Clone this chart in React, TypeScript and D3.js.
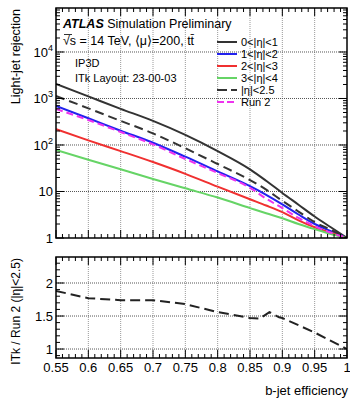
import React from 'react'
import * as d3 from 'd3'

// b-jet efficiency points shared by the upper curves
const effPoints = [0.55, 0.6, 0.65, 0.7, 0.75, 0.8, 0.85, 0.875, 0.9, 0.925, 0.95, 0.975, 1.0]

const eta0to1 = [2050, 1110, 600, 330, 165, 74, 30, 17, 9.3, 5.2, 2.9, 1.7, 1]
const eta1to2 = [690, 375, 203, 112, 56, 27, 13, 8.5, 5.3, 3.2, 2.0, 1.4, 1]
const eta2to3 = [220, 126, 74, 43, 24, 12.7, 6.8, 5.0, 3.6, 2.4, 1.7, 1.3, 1]
const eta3to4 = [78, 48, 30, 18.6, 11.7, 7.4, 4.4, 3.4, 2.65, 2.0, 1.55, 1.22, 1]
const etaAll = [1130, 615, 330, 178, 85, 39, 17.6, 11, 6.3, 3.7, 2.2, 1.5, 1]
const run2 = [595, 345, 190, 103, 50, 25, 12, 7.0, 4.4, 2.7, 1.8, 1.3, 1]

// ratio ITk / Run 2 (|eta|<2.5)
const ratioEff = [0.55, 0.6, 0.65, 0.7, 0.75, 0.8, 0.85, 0.865, 0.88, 0.895, 0.9, 0.95, 1.0]
const ratioVals = [1.88, 1.77, 1.74, 1.74, 1.68, 1.56, 1.47, 1.46, 1.56, 1.48, 1.47, 1.25, 1.0]

const xTicks = [0.55, 0.6, 0.65, 0.7, 0.75, 0.8, 0.85, 0.9, 0.95, 1]
const xTickLabels = ['0.55', '0.6', '0.65', '0.7', '0.75', '0.8', '0.85', '0.9', '0.95', '1']
const ratioTicks = [1, 1.5, 2]
const ratioTickLabels = ['1', '1.5', '2']

const series = [
  {label: '0<|η|<1', values: eta0to1, color: '#333333', dash: null},
  {label: '1<|η|<2', values: eta1to2, color: '#2222ee', dash: null},
  {label: '2<|η|<3', values: eta2to3, color: '#f03030', dash: null},
  {label: '3<|η|<4', values: eta3to4, color: '#66d466', dash: null},
  {label: '|η|<2.5', values: etaAll, color: '#333333', dash: '9,5'},
  {label: 'Run 2', values: run2, color: '#ee33ee', dash: '7,4'}
]

const FONT = 'Liberation Sans, Arial, Helvetica, sans-serif'

export default function App() {
  const left = 56
  const right = 347
  const top1 = 8
  const bot1 = 238
  const top2 = 257
  const bot2 = 358

  const x = d3.scaleLinear().domain([0.55, 1]).range([left, right])
  const y = d3.scaleLog().domain([1, Math.pow(10, 4.946)]).range([bot1, top1])
  const yr = d3.scaleLinear().domain([0.864, 2.394]).range([bot2, top2])

  const line = d3
    .line<number>()
    .x((d, i) => x(effPoints[i]))
    .y(d => y(d))
    .curve(d3.curveMonotoneX)
  const ratioLine = d3
    .line<number>()
    .x((d, i) => x(ratioEff[i]))
    .y(d => yr(d))

  const xMinor = d3.range(0.55, 1.0001, 0.01).map(v => +v.toFixed(2))
  const logMinor: number[] = []
  for (let dec = 1; dec <= 10000; dec *= 10) {
    for (let k = 1; k <= 9; k++) {
      const v = dec * k
      if (v <= Math.pow(10, 4.946)) logMinor.push(v)
    }
  }
  const decades = [1, 10, 100, 1000, 10000]
  const ratioMinor = d3.range(0.9, 2.4, 0.1).map(v => +v.toFixed(1))

  const major = 8
  const minor = 4

  const frame = (t: number, b: number) => (
    <rect x={left} y={t} width={right - left} height={b - t} fill="none" stroke="#000" strokeWidth={1.5} />
  )

  const xTickMarks = (t: number, b: number) =>
    xMinor.map((v, i) => {
      const isMajor = Math.abs((v * 100) % 5) < 1e-6
      const len = isMajor ? major : minor
      return (
        <g key={'xt' + i}>
          <line x1={x(v)} x2={x(v)} y1={b} y2={b - len} stroke="#000" />
          <line x1={x(v)} x2={x(v)} y1={t} y2={t + len} stroke="#000" />
        </g>
      )
    })

  return (
    <svg
      width={350}
      height={398}
      style={{position: 'absolute', left: 0, top: 0, background: '#fff'}}
      fontFamily={FONT}
    >
      <defs>
        <clipPath id="clipTop">
          <rect x={left} y={top1} width={right - left} height={bot1 - top1} />
        </clipPath>
        <clipPath id="clipBot">
          <rect x={left} y={top2} width={right - left} height={bot2 - top2} />
        </clipPath>
      </defs>

      {/* grids */}
      {xTicks.slice(1, -1).map(v => (
        <g key={'gx' + v}>
          <line x1={x(v)} x2={x(v)} y1={top1} y2={bot1} stroke="#999" strokeDasharray="1,1" />
          <line x1={x(v)} x2={x(v)} y1={top2} y2={bot2} stroke="#999" strokeDasharray="1,1" />
        </g>
      ))}
      {decades.slice(1).map(v => (
        <line key={'gy' + v} x1={left} x2={right} y1={y(v)} y2={y(v)} stroke="#555" strokeDasharray="1,1" />
      ))}
      {ratioTicks.map(v => (
        <line key={'gr' + v} x1={left} x2={right} y1={yr(v)} y2={yr(v)} stroke="#555" strokeDasharray="1,1" />
      ))}

      {/* curves */}
      <g clipPath="url(#clipTop)">
        {series.map(s => (
          <path
            key={s.label}
            d={line(s.values) || ''}
            fill="none"
            stroke={s.color}
            strokeWidth={2}
            strokeDasharray={s.dash || undefined}
          />
        ))}
      </g>
      <g clipPath="url(#clipBot)">
        <path d={ratioLine(ratioVals) || ''} fill="none" stroke="#222" strokeWidth={2} strokeDasharray="10,5" />
      </g>

      {/* ticks */}
      {xTickMarks(top1, bot1)}
      {xTickMarks(top2, bot2)}
      {logMinor.map((v, i) => {
        const len = decades.includes(v) ? major : minor
        return (
          <g key={'ly' + i}>
            <line x1={left} x2={left + len} y1={y(v)} y2={y(v)} stroke="#000" />
            <line x1={right} x2={right - len} y1={y(v)} y2={y(v)} stroke="#000" />
          </g>
        )
      })}
      {ratioMinor.map((v, i) => {
        const len = Math.abs((v * 10) % 5) < 1e-6 ? major : minor
        return (
          <g key={'ry' + i}>
            <line x1={left} x2={left + len} y1={yr(v)} y2={yr(v)} stroke="#000" />
            <line x1={right} x2={right - len} y1={yr(v)} y2={yr(v)} stroke="#000" />
          </g>
        )
      })}

      {frame(top1, bot1)}
      {frame(top2, bot2)}

      {/* tick labels */}
      {decades.map((v, i) => (
        <text key={'lyl' + v} x={left - 3} y={y(v) + 5} textAnchor="end" fontSize={13}>
          {i === 0 ? '1' : i === 1 ? '10' : (
            <>
              10<tspan dy={-6} fontSize={9}>{i}</tspan>
            </>
          )}
        </text>
      ))}
      {ratioTicks.map((v, i) => (
        <text key={'ryl' + v} x={left - 3} y={yr(v) + 5} textAnchor="end" fontSize={13}>
          {ratioTickLabels[i]}
        </text>
      ))}
      {xTicks.map((v, i) => (
        <text key={'xl' + v} x={x(v)} y={372} textAnchor="middle" fontSize={13}>
          {xTickLabels[i]}
        </text>
      ))}

      {/* axis titles */}
      <text transform={`translate(20, ${top1 + 1}) rotate(-90)`} textAnchor="end" fontSize={12.5}>
        Light-jet rejection
      </text>
      <text transform={`translate(20, ${top2 + 1}) rotate(-90)`} textAnchor="end" fontSize={12}>
        ITk / Run 2 (|η|&lt;2.5)
      </text>
      <text x={348} y={395} textAnchor="end" fontSize={13}>
        b-jet efficiency
      </text>

      {/* ATLAS labels */}
      <text x={63} y={28} fontSize={12.5}>
        <tspan fontWeight="bold" fontStyle="italic">ATLAS</tspan> Simulation Preliminary
      </text>
      <text x={63} y={45} fontSize={12.5}>
        √s = 14 TeV, ⟨μ⟩=200, tt̄
      </text>
      <line x1={64} x2={72} y1={34.5} y2={34.5} stroke="#000" strokeWidth={0.8} />
      <text x={75} y={67} fontSize={11}>IP3D</text>
      <text x={75} y={82} fontSize={11}>ITk Layout: 23-00-03</text>

      {/* legend */}
      {series.map((s, i) => {
        const ly = 42 + i * 12
        return (
          <g key={'lg' + s.label}>
            <line
              x1={217}
              x2={237}
              y1={ly}
              y2={ly}
              stroke={s.color}
              strokeWidth={2}
              strokeDasharray={s.dash ? (s.label === 'Run 2' ? '7,3' : '10,4') : undefined}
            />
            <text x={241} y={ly + 4} fontSize={11}>
              {s.label}
            </text>
          </g>
        )
      })}
    </svg>
  )
}
